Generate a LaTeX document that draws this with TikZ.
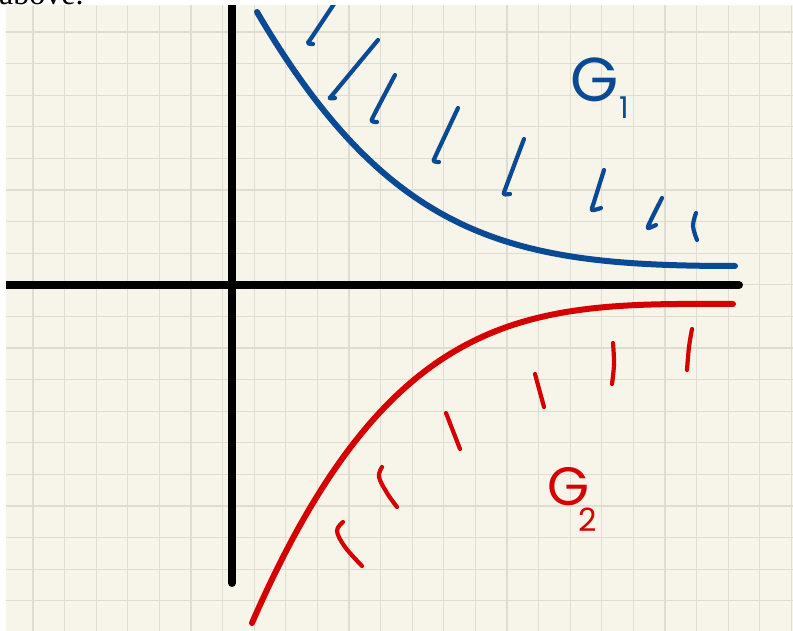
\documentclass[tikz,border=0pt]{standalone}
\usepackage{fontspec}
\setmainfont{Liberation Serif}
\newfontfamily\handfont{Poppins}
\definecolor{paper}{RGB}{247,244,233}
\definecolor{gridc}{RGB}{224,220,207}
\definecolor{gblue}{RGB}{10,74,148}
\definecolor{gred}{RGB}{213,0,0}
\begin{document}
\begin{tikzpicture}[x=1pt,y=-1pt,
  axisline/.style={line width=8pt, line cap=round, black},
  curveblue/.style={line width=6pt, line cap=round, gblue},
  curvered/.style={line width=6pt, line cap=round, gred},
  hatchblue/.style={line width=4.2pt, line cap=round, line join=round, gblue},
  hatchred/.style={line width=4.2pt, line cap=round, line join=round, gred},
  gridline/.style={line width=1.3pt, gridc},
  lab/.style={inner sep=0pt, font=\handfont}]
\useasboundingbox (0,0) rectangle (793,631);
\fill[paper] (0,0) rectangle (793,631);
\foreach \i in {0,...,25} { \draw[gridline] ({1.4+31.6*\i},0) -- ({1.4+31.6*\i},631); }
\foreach \j in {0,...,20} { \draw[gridline] (0,{0.4+31.6*\j}) -- (793,{0.4+31.6*\j}); }
% axes
\draw[axisline] (0,285) -- (739,285);
\draw[axisline] (232,-5) -- (232,583);
% curves
\draw[curveblue] (257,12) .. controls (392,242) and (515,266) .. (735,266);
\draw[curvered] (252,623) .. controls (392,302) and (533,303) .. (733,304);
% blue hatches
\draw[hatchblue] plot[smooth, tension=0.5] coordinates {(336,1) (312,37) (308,43) (313,44)};
\draw[hatchblue] plot[smooth, tension=0.5] coordinates {(378,40) (334,93) (330,98) (335,98)};
\draw[hatchblue] plot[smooth, tension=0.5] coordinates {(395,75) (374,115) (372,121) (377,122)};
\draw[hatchblue] plot[smooth, tension=0.5] coordinates {(458,108) (436,155) (434,161) (439,162)};
\draw[hatchblue] plot[smooth, tension=0.5] coordinates {(524,139) (506,187) (504,194) (510,194)};
\draw[hatchblue] plot[smooth, tension=0.5] coordinates {(604,170) (594,202) (592,210) (601,208)};
\draw[hatchblue] plot[smooth, tension=0.5] coordinates {(662,198) (650,222) (648,228) (656,225)};
\draw[hatchblue] plot[smooth, tension=0.6] coordinates {(696,213) (693,226) (697,240)};
% red hatches
\draw[hatchred] (446,413) -- (460,449);
\draw[hatchred] (535,374) -- (544,407);
\draw[hatchred] plot[smooth, tension=0.6] coordinates {(613,343) (614,364) (612,384)};
\draw[hatchred] plot[smooth, tension=0.6] coordinates {(692,329) (689,347) (687,370)};
\draw[hatchred] plot[smooth, tension=0.6] coordinates {(382,467) (379,477) (387,493) (397,507)};
\draw[hatchred] plot[smooth, tension=0.6] coordinates {(343,522) (337,531) (345,547) (362,566)};
% labels
\node[lab, gblue, font=\handfont\fontsize{62}{62}\selectfont] (g1) at (595,80) {G};
\node[lab, gblue, font=\handfont\fontsize{30}{30}\selectfont] (g1sub) at (624,108) {1};
\node[lab, gred, font=\handfont\fontsize{54}{54}\selectfont] (g2) at (569,487) {G};
\node[lab, gred, font=\handfont\fontsize{32}{32}\selectfont] (g2sub) at (588,520) {2};
% white margins and cut-off text
\fill[white] (0,0) rectangle (793,5);
\fill[white] (0,0) rectangle (6,631);
\node[inner sep=0pt, anchor=base west, font=\fontsize{32}{32}\selectfont] (above) at (-1,4.5) {above.};
\end{tikzpicture}
\end{document}
